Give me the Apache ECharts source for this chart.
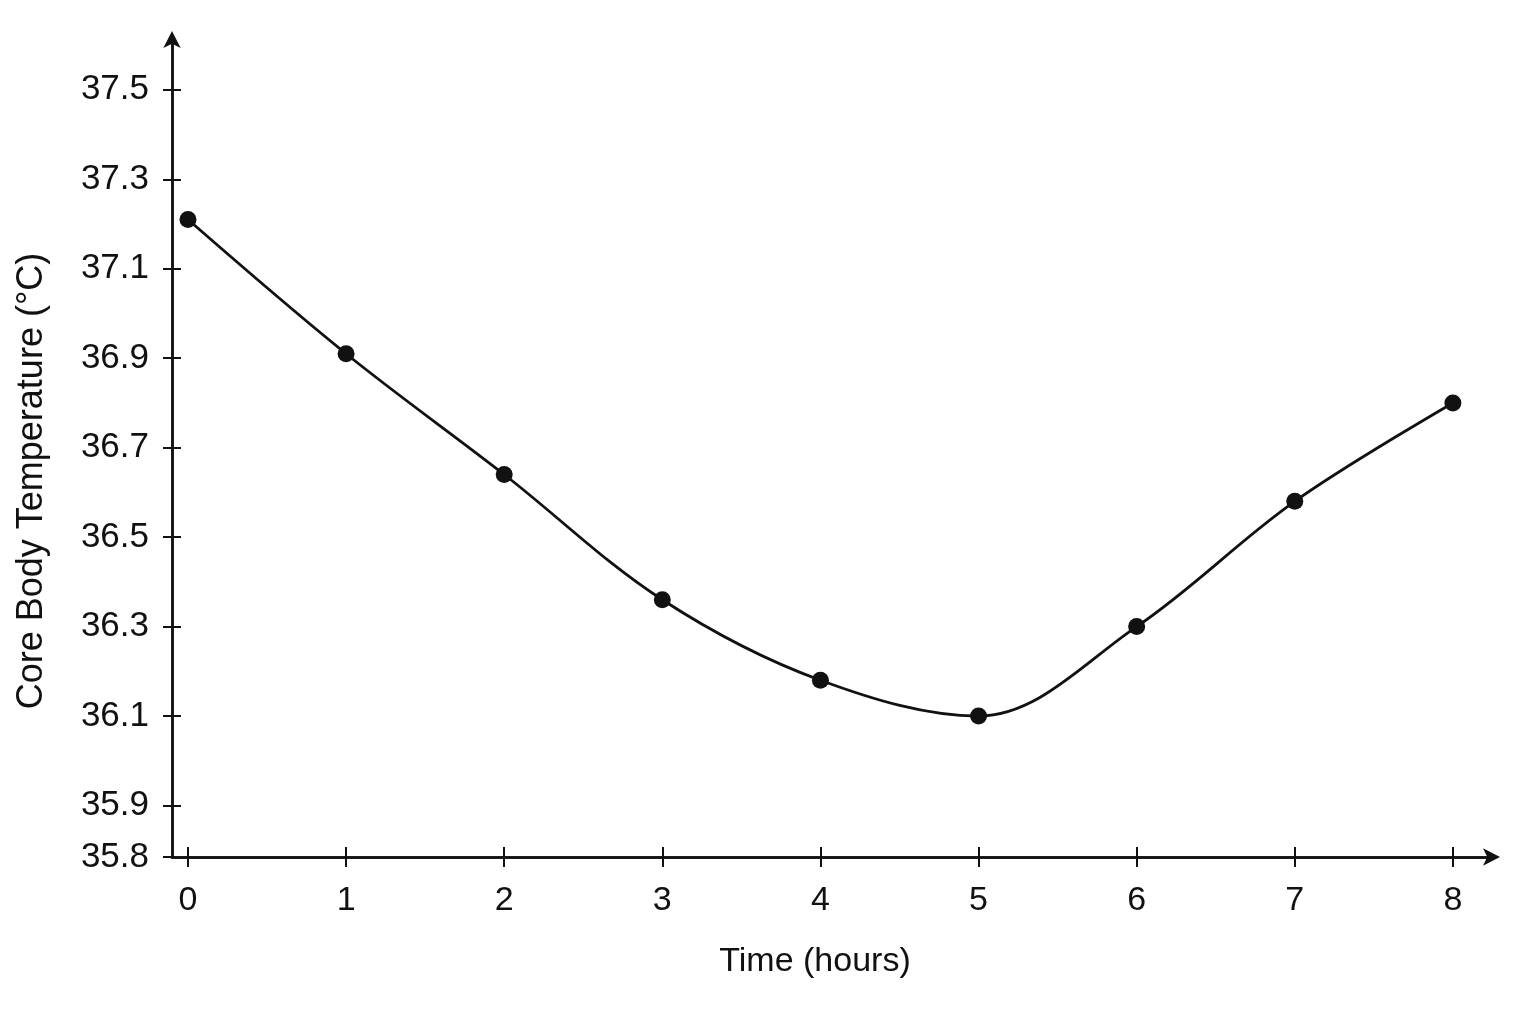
<!DOCTYPE html>
<html>
<head>
<meta charset="utf-8">
<script src="https://cdn.jsdelivr.net/npm/echarts@6/dist/echarts.min.js"></script>
<style>html,body{margin:0;padding:0;background:#fff;}#c{width:1536px;height:1024px;}</style>
</head>
<body>
<div id="c"></div>
<script>
// ---- data ----
var timeHours = [0, 1, 2, 3, 4, 5, 6, 7, 8];
var coreTemp = [37.21, 36.91, 36.64, 36.36, 36.18, 36.10, 36.30, 36.58, 36.80];
var xTickValues = [0, 1, 2, 3, 4, 5, 6, 7, 8];
var yAxisMin = 35.785;
var yAxisMax = 37.618;
var yTickValues = [yAxisMin, 35.9, 36.1, 36.3, 36.5, 36.7, 36.9, 37.1, 37.3, 37.5];
var xAxisMin = -0.101;
var xAxisMax = 8.26;
var xTitle = 'Time (hours)';
var yTitle = 'Core Body Temperature (°C)';

var points = timeHours.map(function (t, i) { return [t, coreTemp[i]]; });
var FONT = '"Liberation Sans", Arial, sans-serif';
var INK = '#111';
var GRID = { left: 172, right: 42, top: 37, bottom: 167, containLabel: false };

// secondary axis (line drawn over the main one) carrying the inner half of each crossing tick
function innerAxis(min, max, ticks, gridIndex, len, pos) {
  return {
    type: 'value', min: min, max: max, gridIndex: gridIndex, position: pos,
    splitLine: { show: false },
    axisLine: { show: true, onZero: false, lineStyle: { color: INK, width: 2.5 } },
    axisTick: { show: true, inside: true, length: len, customValues: ticks,
      lineStyle: { color: INK, width: 2 } },
    axisLabel: { show: false, customValues: ticks }
  };
}

var chart = echarts.init(document.getElementById('c'), null, { renderer: 'canvas' });
chart.setOption({
  backgroundColor: '#fff',
  animation: false,
  grid: [GRID, Object.assign({}, GRID)],
  xAxis: [{
    type: 'value', min: xAxisMin, max: xAxisMax, gridIndex: 0,
    name: xTitle, nameLocation: 'middle', nameGap: 88,
    nameTextStyle: { fontFamily: FONT, fontSize: 34, color: INK, padding: [0, 36, 0, 0] },
    splitLine: { show: false },
    axisLine: { show: true, onZero: false, symbol: ['none', 'arrow'], symbolSize: [13, 17], symbolOffset: [0, 6],
      lineStyle: { color: INK, width: 2.5 } },
    axisTick: { show: true, inside: false, length: 10, customValues: xTickValues,
      lineStyle: { color: INK, width: 2 } },
    axisLabel: { show: true, margin: 27, customValues: xTickValues,
      fontFamily: FONT, fontSize: 34, color: INK,
      formatter: function (v) { return String(Math.round(v)); } }
  }, innerAxis(xAxisMin, xAxisMax, xTickValues, 1, 10, 'bottom')],
  yAxis: [{
    type: 'value', min: yAxisMin, max: yAxisMax, gridIndex: 0,
    name: yTitle, nameLocation: 'middle', nameGap: 122,
    nameTextStyle: { fontFamily: FONT, fontSize: 36, color: INK, padding: [0, 68, 0, 0] },
    splitLine: { show: false },
    axisLine: { show: true, onZero: false, symbol: ['none', 'arrow'], symbolSize: [13, 17], symbolOffset: [0, 6],
      lineStyle: { color: INK, width: 2.5 } },
    axisTick: { show: true, inside: false, length: 9, customValues: yTickValues,
      lineStyle: { color: INK, width: 2 } },
    axisLabel: { show: true, margin: 23, customValues: yTickValues,
      fontFamily: FONT, fontSize: 35, color: INK,
      formatter: function (v) { return v.toFixed(1); } }
  }, innerAxis(yAxisMin, yAxisMax, yTickValues.slice(1), 1, 9, 'left')],
  series: [{
    type: 'line', data: points, xAxisIndex: 0, yAxisIndex: 0,
    smooth: 0.35,
    symbol: 'circle', symbolSize: 17,
    itemStyle: { color: INK },
    lineStyle: { color: INK, width: 2.8 },
    clip: false,
    z: 3
  }, {
    type: 'line', data: points, xAxisIndex: 1, yAxisIndex: 1, silent: true,
    symbol: 'none', showSymbol: false,
    lineStyle: { opacity: 0, width: 0 }, itemStyle: { opacity: 0 }, z: 1
  }]
});
</script>
</body>
</html>
